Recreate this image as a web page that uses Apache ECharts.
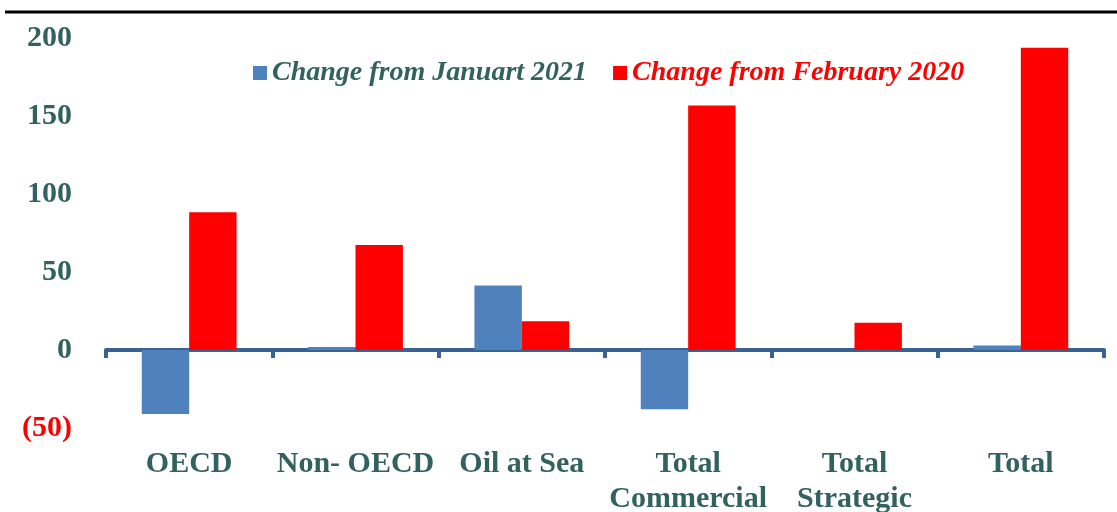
<!DOCTYPE html>
<html>
<head>
<meta charset="utf-8">
<script src="https://cdn.jsdelivr.net/npm/echarts@6/dist/echarts.min.js"></script>
<style>
  html, body { margin: 0; padding: 0; background: #fff; }
  #chart { width: 1117px; height: 512px; }
</style>
</head>
<body>
<div id="chart"></div>
<script>
// data
var categories = ['OECD', 'Non- OECD', 'Oil at Sea', 'Total\nCommercial', 'Total\nStrategic', 'Total'];
var seriesNames = ['Change from Januart 2021', 'Change from February 2020'];
var fromJan2021 = [-41, 2, 41.5, -38, 0, 3];
var fromFeb2020 = [88.5, 67.5, 18.5, 157, 17.5, 194];
var yTicks = { min: -50, max: 200, step: 50 };

var teal = '#31625f';
var blue = '#4f81bd';
var red = '#ff0000';
var font = '"Liberation Serif", "Times New Roman", serif';

var option = {
    animation: false,
    grid: {
        left: 106,
        right: 13,
        top: 38.5,
        bottom: 84,
        containLabel: false,
        outerBoundsMode: 'none'
    },
    legend: {
        top: 54,
        left: 248,
        itemWidth: 14,
        itemHeight: 14,
        itemGap: 26,
        icon: 'rect',
        textStyle: {
            fontFamily: font,
            fontSize: 28,
            fontWeight: 'bold',
            fontStyle: 'italic'
        },
        data: [
            { name: seriesNames[0], textStyle: { color: teal } },
            { name: seriesNames[1], textStyle: { color: red } }
        ]
    },
    xAxis: {
        type: 'category',
        data: categories,
        axisLine: {
            onZero: true,
            lineStyle: { color: '#386194', width: 4 }
        },
        axisTick: {
            show: true,
            length: 8,
            lineStyle: { color: '#386194', width: 4 }
        },
        axisLabel: {
            margin: 19,
            interval: 0,
            color: teal,
            fontFamily: font,
            fontSize: 30,
            fontWeight: 'bold',
            lineHeight: 35
        }
    },
    yAxis: {
        type: 'value',
        min: yTicks.min,
        max: yTicks.max,
        interval: yTicks.step,
        splitLine: { show: false },
        axisLine: { show: false },
        axisTick: { show: false },
        axisLabel: {
            margin: 34,
            fontFamily: font,
            fontSize: 30,
            fontWeight: 'bold',
            color: function (v) { return v < 0 ? red : teal; },
            formatter: function (v) { return v < 0 ? '(' + Math.abs(v) + ')' : String(v); }
        }
    },
    graphic: [{
        type: 'line',
        shape: { x1: 5, y1: 12, x2: 1117, y2: 12 },
        style: { stroke: '#000', lineWidth: 3 },
        z: 10
    }],
    series: [
        {
            name: seriesNames[0],
            type: 'bar',
            data: fromJan2021,
            barGap: '0%',
            barCategoryGap: '43%',
            itemStyle: { color: blue }
        },
        {
            name: seriesNames[1],
            type: 'bar',
            data: fromFeb2020,
            barGap: '0%',
            barCategoryGap: '43%',
            itemStyle: { color: red }
        }
    ]
};

var chart = echarts.init(document.getElementById('chart'));
chart.setOption(option);
</script>
</body>
</html>
